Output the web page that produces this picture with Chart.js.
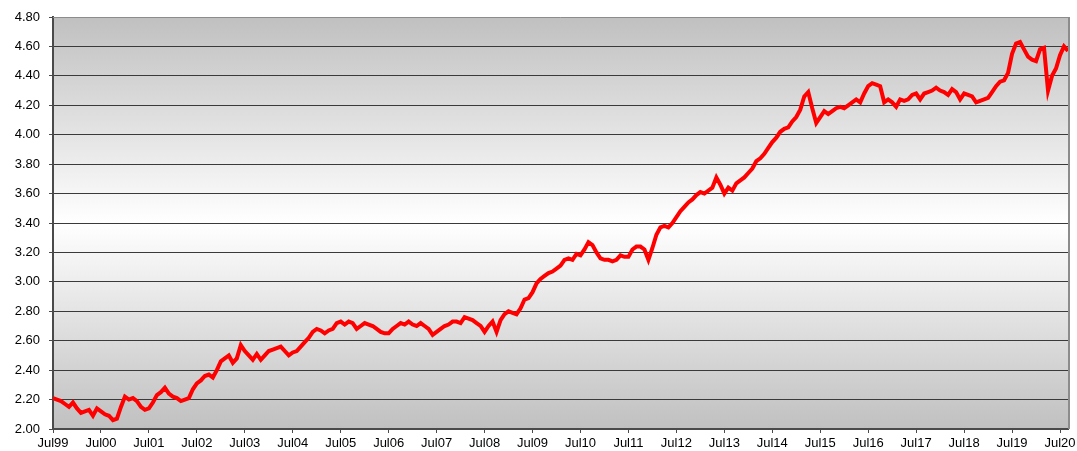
<!DOCTYPE html>
<html>
<head>
<meta charset="utf-8">
<script src="https://cdn.jsdelivr.net/npm/chart.js@4"></script>
<style>
  html, body { margin: 0; padding: 0; background: #fff; }
  #wrap { width: 1077px; height: 451px; }
</style>
</head>
<body>
<div id="wrap"><canvas id="myChart" width="1077" height="451"></canvas></div>
<script>
// monthly readings, Jul 1999 .. Sep 2020
var startYear = 1999;
var monthNames = ["Jul","Aug","Sep","Oct","Nov","Dec","Jan","Feb","Mar","Apr","May","Jun"];

var values = [
  2.21,2.20,2.19,2.17,2.15,2.18,2.14,2.11,2.12,2.13,2.09,2.14,   // Jul99-Jun00
  2.12,2.10,2.09,2.06,2.07,2.15,2.22,2.20,2.21,2.19,2.15,2.13,   // Jul00-Jun01
  2.14,2.18,2.23,2.25,2.28,2.24,2.22,2.21,2.19,2.20,2.21,2.27,   // Jul01-Jun02
  2.31,2.33,2.36,2.37,2.35,2.40,2.46,2.48,2.50,2.45,2.48,2.57,   // Jul02-Jun03
  2.53,2.50,2.47,2.51,2.47,2.50,2.53,2.54,2.55,2.56,2.53,2.50,   // Jul03-Jun04
  2.52,2.53,2.56,2.59,2.62,2.66,2.68,2.67,2.65,2.67,2.68,2.72,   // Jul04-Jun05
  2.73,2.71,2.73,2.72,2.68,2.70,2.72,2.71,2.70,2.68,2.66,2.65,   // Jul05-Jun06
  2.65,2.68,2.70,2.72,2.71,2.73,2.71,2.70,2.72,2.70,2.68,2.64,   // Jul06-Jun07
  2.66,2.68,2.70,2.71,2.73,2.73,2.72,2.76,2.75,2.74,2.72,2.70,   // Jul07-Jun08
  2.66,2.70,2.73,2.66,2.74,2.78,2.80,2.79,2.78,2.82,2.88,2.89,   // Jul08-Jun09
  2.93,2.99,3.02,3.04,3.06,3.07,3.09,3.11,3.15,3.16,3.15,3.19,   // Jul09-Jun10
  3.18,3.22,3.27,3.25,3.20,3.16,3.15,3.15,3.14,3.15,3.18,3.17,   // Jul10-Jun11
  3.17,3.22,3.24,3.24,3.22,3.15,3.23,3.32,3.37,3.38,3.37,3.40,   // Jul11-Jun12
  3.44,3.48,3.51,3.54,3.56,3.59,3.61,3.60,3.62,3.64,3.71,3.66,   // Jul12-Jun13
  3.60,3.64,3.62,3.67,3.69,3.71,3.74,3.77,3.82,3.84,3.87,3.91,   // Jul13-Jun14
  3.95,3.98,4.02,4.04,4.05,4.09,4.12,4.17,4.26,4.29,4.18,4.08,   // Jul14-Jun15
  4.12,4.16,4.14,4.16,4.18,4.19,4.18,4.20,4.22,4.24,4.22,4.28,   // Jul15-Jun16
  4.33,4.35,4.34,4.33,4.22,4.24,4.22,4.19,4.24,4.23,4.24,4.27,   // Jul16-Jun17
  4.28,4.24,4.28,4.29,4.30,4.32,4.30,4.29,4.27,4.31,4.29,4.24,   // Jul17-Jun18
  4.28,4.27,4.26,4.22,4.23,4.24,4.25,4.29,4.33,4.36,4.37,4.42,   // Jul18-Jun19
  4.55,4.62,4.63,4.58,4.53,4.51,4.50,4.58,4.59,4.30,4.40,4.45,   // Jul19-Jun20
  4.54,4.60,4.57                                                 // Jul20-Sep20
];

var yMin = 2.0, yMax = 4.8, yStep = 0.2;

var labels = [];
for (var i = 0; i < values.length; i++) {
  var yr = startYear + Math.floor((i + 6) / 12);
  labels.push(monthNames[i % 12] + String(yr % 100).padStart(2, "0"));
}

var plotBg = {
  id: "plotBg",
  beforeDraw: function(chart) {
    var a = chart.chartArea, c = chart.ctx;
    var g = c.createLinearGradient(0, a.top, 0, a.bottom);
    g.addColorStop(0, "#c0c0c0");
    g.addColorStop(0.5, "#ffffff");
    g.addColorStop(1, "#c0c0c0");
    c.save();
    c.fillStyle = g;
    c.fillRect(a.left, a.top, a.right - a.left, a.bottom - a.top);
    c.restore();
  },
  afterDatasetsDraw: function(chart) {
    var a = chart.chartArea, c = chart.ctx;
    c.save();
    c.strokeStyle = "#8c8c8c";
    c.lineWidth = 1;
    c.beginPath();
    c.moveTo(a.left, a.top + 0.5);
    c.lineTo(a.right, a.top + 0.5);
    c.stroke();
    c.lineWidth = 2;
    c.beginPath();
    c.moveTo(a.right + 1, a.top);
    c.lineTo(a.right + 1, a.bottom);
    c.stroke();
    c.restore();
  }
};

var ctx = document.getElementById("myChart");
var myChart = new Chart(ctx, {
  type: "line",
  data: {
    labels: labels,
    datasets: [{
      data: values,
      borderColor: "#ff0000",
      borderWidth: 4,
      pointRadius: 0,
      tension: 0,
      fill: false
    }]
  },
  plugins: [plotBg],
  options: {
    responsive: false,
    animation: false,
    layout: { padding: { left: 0, top: 17, right: 9, bottom: 0 } },
    plugins: { legend: { display: false }, tooltip: { enabled: false } },
    scales: {
      x: {
        type: "category",
        offset: false,
        border: { color: "#4a4a4a", width: 2 },
        grid: {
          drawOnChartArea: false,
          drawTicks: true,
          tickLength: 4,
          tickColor: function(c) { return c.index % 12 === 0 ? "#4a4a4a" : "rgba(0,0,0,0)"; }
        },
        ticks: {
          autoSkip: false,
          maxRotation: 0,
          padding: 3,
          color: "#000",
          font: { family: "'Liberation Sans', Arial, sans-serif", size: 13 },
          callback: function(v, i) { return i % 12 === 0 ? labels[i] : ""; }
        },
        afterFit: function(s) { s.height = 22; }
      },
      y: {
        min: yMin,
        max: yMax,
        border: { color: "#4a4a4a", width: 2 },
        grid: {
          color: function(c) {
            var v = c.tick ? c.tick.value : 0;
            return (v <= yMin + 0.001 || v >= yMax - 0.001) ? "rgba(0,0,0,0)" : "#3a3a3a";
          },
          lineWidth: 1,
          borderDash: [1, 1],
          tickBorderDash: [],
          tickColor: "#4a4a4a",
          tickLength: 4
        },
        ticks: {
          stepSize: yStep,
          padding: 9,
          color: "#000",
          font: { family: "'Liberation Sans', Arial, sans-serif", size: 13 },
          callback: function(v) { return Number(v).toFixed(2); }
        },
        afterFit: function(s) { s.width = 53; }
      }
    }
  }
});
</script>
</body>
</html>
